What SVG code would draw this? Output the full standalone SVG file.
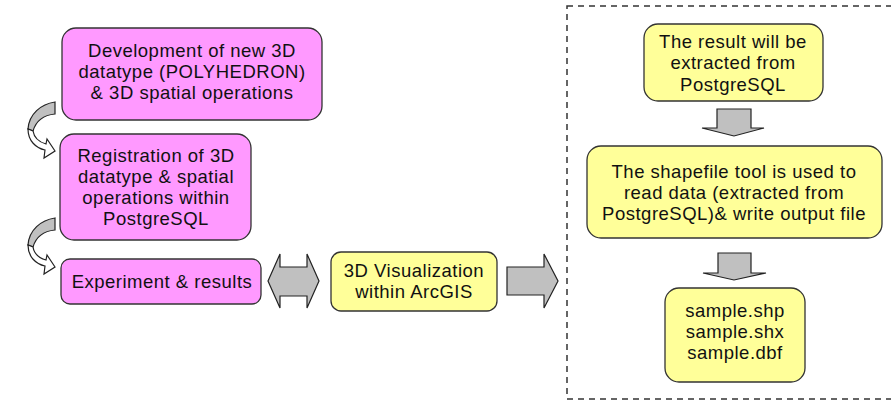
<svg xmlns="http://www.w3.org/2000/svg" width="891" height="400" viewBox="0 0 891 400">
<style>
.pink{fill:#FF99FF;stroke:#333;stroke-width:1.3}
.yel{fill:#FFFF99;stroke:#333;stroke-width:1.3}
.arr{fill:#C0C0C0;stroke:#222;stroke-width:1.2;stroke-linejoin:miter}
.wh{fill:#fff;stroke:#222;stroke-width:1.2}
text{font-family:"Liberation Sans",Arial,sans-serif;font-size:18.5px;letter-spacing:0.5px;fill:#111;text-anchor:middle}
</style>
<rect x="0" y="0" width="891" height="400" fill="#fff"/>
<rect id="frame" x="567" y="6" width="340" height="393" fill="none" stroke="#333" stroke-width="1.5" stroke-dasharray="6,5"/>
<g id="n1"><rect class="pink" x="62" y="28" width="260" height="92" rx="14"/>
<text x="192" y="57">Development of new 3D</text><text x="192" y="78">datatype (POLYHEDRON)</text><text x="192" y="99">&amp; 3D spatial operations</text></g>
<g id="n2"><rect class="pink" x="60" y="134" width="191" height="106" rx="14"/>
<text x="156" y="162">Registration of 3D</text><text x="156" y="183">datatype &amp; spatial</text><text x="156" y="204">operations within</text><text x="156" y="225">PostgreSQL</text></g>
<g id="n3"><rect class="pink" x="61" y="259" width="200" height="45" rx="9"/>
<text x="162" y="288">Experiment &amp; results</text></g>
<g id="n4"><rect class="yel" x="331" y="252" width="166" height="59" rx="10"/>
<text x="414" y="277">3D Visualization</text><text x="414" y="298">within ArcGIS</text></g>
<g id="n5"><rect class="yel" x="644" y="24" width="179" height="77" rx="14"/>
<text x="733" y="48">The result will be</text><text x="733" y="69">extracted from</text><text x="733" y="91">PostgreSQL</text></g>
<g id="n6"><rect class="yel" x="587" y="146" width="295" height="92" rx="14"/>
<text x="734" y="178">The shapefile tool is used to</text><text x="734" y="199">read data (extracted from</text><text x="734" y="220">PostgreSQL)&amp; write output file</text></g>
<g id="n7"><rect class="yel" x="665" y="288" width="140" height="94" rx="14"/>
<text x="735" y="317">sample.shp</text><text x="735" y="338">sample.shx</text><text x="735" y="359">sample.dbf</text></g>
<g id="connectors">
<g id="c1">
<path class="arr" d="M55,102 C41,104 29,114 28,129 L33,131 C36,121 44,115 55,114 Z"/>
<path class="wh" d="M28,129 C28,141 36,148 45,150 L44,158 L55,151 L47,139 L46,144 C39,142 34,137 33,131 Z"/>
</g>
<g id="c2" transform="translate(0,116)">
<path class="arr" d="M55,102 C41,104 29,114 28,129 L33,131 C36,121 44,115 55,114 Z"/>
<path class="wh" d="M28,129 C28,141 36,148 45,150 L44,158 L55,151 L47,139 L46,144 C39,142 34,137 33,131 Z"/>
</g>
<polygon id="c3" class="arr" points="268,281 280,254 280,267 307,267 307,254 319,281 307,308 307,296 280,296 280,308"/>
<polygon id="c4" class="arr" points="507,267 544,267 544,254 558,281 544,308 544,295 507,295"/>
<polygon id="c5" class="arr" points="717,109 751,109 751,128 764,128 734,136 702,128 717,128"/>
<polygon id="c6" class="arr" points="718,253 751,253 751,273 766,273 734,280 703,273 718,273"/>
</g>
</svg>
